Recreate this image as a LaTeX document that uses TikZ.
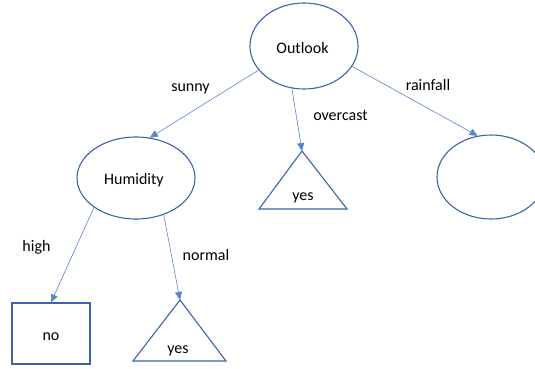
\documentclass[tikz,border=0pt]{standalone}
\usepackage{fontspec}
\setmainfont{Carlito}
\usetikzlibrary{shapes.geometric,arrows.meta}
\definecolor{edgeblue}{HTML}{3B63A8}
\definecolor{linkblue}{HTML}{5B84CC}
\tikzset{
  every node/.style={font=\fontsize{16}{19}\selectfont},
  decision/.style={ellipse,draw=edgeblue,line width=1.1pt,inner sep=0pt},
  leafbox/.style={rectangle,draw=edgeblue,line width=1.1pt,inner sep=0pt},
  leaftri/.style={draw=edgeblue,line width=1.1pt,line join=miter},
  link/.style={draw=linkblue,line width=0.6pt,-{Triangle[length=8pt,width=7pt]}},
  txt/.style={inner sep=0pt,anchor=base}
}
\begin{document}
\begin{tikzpicture}[x=1pt,y=-1pt]
\clip (0,0) rectangle (535,368);
\useasboundingbox (0,0) rectangle (535,368);

% decision nodes
\node[decision,minimum width=108pt,minimum height=86pt] (outlook) at (304,46) {};
\node[txt] (outlookText) at (302.5,53.5) {Outlook};
\node[decision,minimum width=118pt,minimum height=82pt] (humidity) at (136,178) {};
\node[txt] (humidityText) at (134,184) {Humidity};
\node[decision,minimum width=108pt,minimum height=84pt] (rain) at (491,177) {};

% leaves
\node[leafbox,minimum width=78pt,minimum height=61pt] (no) at (51,333.5) {};
\node[txt] (noText) at (51,340) {no};

\draw[leaftri] (302,151) -- (347,209) -- (259,209) -- cycle;
\coordinate (yesTop) at (302,151);
\node[txt] (yesA) at (303,200) {yes};

\draw[leaftri] (180,300) -- (226,361) -- (133,361) -- cycle;
\coordinate (yesBot) at (180,300);
\node[txt] (yesB) at (178,353) {yes};

% branches
\draw[link] (outlook.208) -- (humidity.71);
\draw[link] (outlook.254) -- (yesTop);
\draw[link] (outlook.337) -- (rain.108);
\draw[link] (humidity.215) -- (no.north);
\draw[link] (humidity.307) -- (yesBot);

% branch labels
\node[txt] (lsunny) at (190.5,91.7) {sunny};
\node[txt] (lover) at (340.5,120) {overcast};
\node[txt] (lrain) at (428,90.7) {rainfall};
\node[txt] (lhigh) at (36.5,251.7) {high};
\node[txt] (lnormal) at (206,260) {normal};
\end{tikzpicture}
\end{document}
